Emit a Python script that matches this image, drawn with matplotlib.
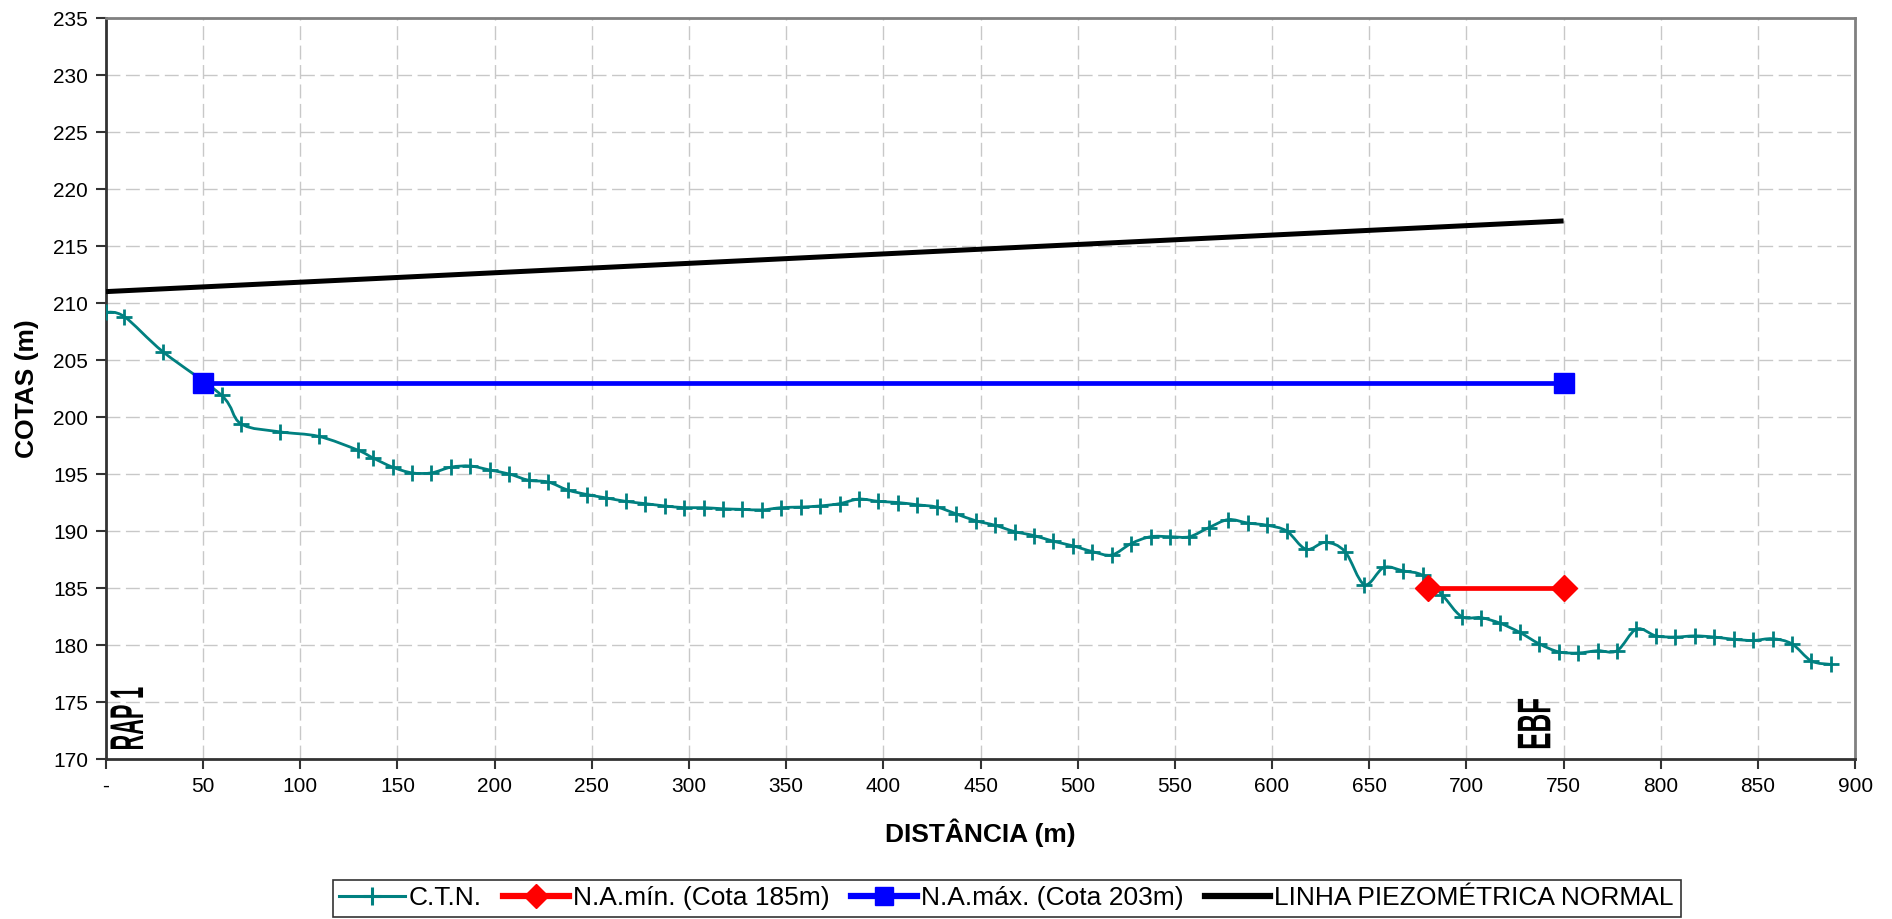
import matplotlib
matplotlib.use("Agg")
import matplotlib.pyplot as plt
from matplotlib.path import Path
from matplotlib.patches import PathPatch
from matplotlib.lines import Line2D
from matplotlib.patheffects import AbstractPathEffect
from matplotlib.transforms import Affine2D

# ---- data -------------------------------------------------------------
ctn_dist = [0, 9.5, 29.5, 59.5, 69.5, 89.5, 109.5, 129.5, 137.5,
            147.5, 157.5, 167.5, 177.5, 187.5, 197.5, 207.5, 217.5, 227.5,
            237.5, 247.5, 257.5, 267.5, 277.5, 287.5, 297.5, 307.5, 317.5,
            327.5, 337.5, 347.5, 357.5, 367.5, 377.5, 387.5, 397.5, 407.5,
            417.5, 427.5, 437.5, 447.5, 457.5, 467.5, 477.5, 487.5, 497.5,
            507.5, 517.5, 527.5, 537.5, 547.5, 557.5, 567.5, 577.5, 587.5,
            597.5, 607.5, 617.5, 627.5, 637.5, 647.5, 657.5, 667.5, 677.5,
            687.5, 697.5, 707.5, 717.5, 727.5, 737.5, 747.5, 757.5, 767.5,
            777.5, 787.5, 797.5, 807.5, 817.5, 827.5, 837.5, 847.5, 857.5,
            867.5, 877.5, 887.5]
ctn_cota = [209.2, 208.8, 205.7, 201.9, 199.4, 198.7, 198.3, 197.1, 196.4,
            195.6, 195.1, 195.1, 195.6, 195.7, 195.35, 195.0, 194.45, 194.3,
            193.6, 193.2, 192.9, 192.6, 192.4, 192.2, 192.05, 192.05, 191.95,
            191.9, 191.85, 192.05, 192.1, 192.2, 192.4, 192.8, 192.6, 192.5,
            192.3, 192.1, 191.5, 190.9, 190.5, 189.95, 189.6, 189.1, 188.7,
            188.2, 187.9, 188.9, 189.5, 189.5, 189.5, 190.3, 191.0, 190.7,
            190.5, 190.0, 188.4, 189.0, 188.2, 185.3, 186.8, 186.5, 186.1,
            184.4, 182.5, 182.4, 181.9, 181.1, 180.1, 179.4, 179.3, 179.5,
            179.5, 181.4, 180.8, 180.7, 180.8, 180.7, 180.5, 180.4, 180.55,
            180.1, 178.6, 178.3]

na_min_dist = [680, 750]
na_min_cota = [185, 185]
na_max_dist = [50, 750]
na_max_cota = [203, 203]
piezo_dist = [0, 750]
piezo_cota = [211.0, 217.2]

x_ticks = [0, 50, 100, 150, 200, 250, 300, 350, 400, 450,
           500, 550, 600, 650, 700, 750, 800, 850, 900]
x_tick_labels = ["-", "50", "100", "150", "200", "250", "300", "350", "400",
                 "450", "500", "550", "600", "650", "700", "750", "800",
                 "850", "900"]
y_ticks = [170, 175, 180, 185, 190, 195, 200, 205, 210, 215, 220, 225,
           230, 235]

series_labels = ["C.T.N.", "N.A.mín. (Cota 185m)", "N.A.máx. (Cota 203m)",
                 "LINHA PIEZOMÉTRICA NORMAL"]
# station names: text, distance, elevation of the text foot, glyph width factor
station_names = [("RAP 1", 12.9, 170.75, 0.46), ("EBF", 737, 170.8, 0.55)]

# ---- style --------------------------------------------------------------
plt.rcParams["font.family"] = ["Liberation Sans", "DejaVu Sans"]
TEAL = "#008080"
RED = "#FF0000"
BLUE = "#0000FF"


class Condensed(AbstractPathEffect):
    """Narrow the glyphs along the baseline (condensed lettering)."""

    def __init__(self, factor):
        super().__init__()
        self._factor = factor

    def draw_path(self, renderer, gc, tpath, affine, rgbFace=None):
        affine = Affine2D().scale(self._factor, 1.0) + affine
        renderer.draw_path(gc, tpath, affine, rgbFace)


def smooth_path(xs, ys):
    """Cardinal (Catmull-Rom) spline through the points as cubic Beziers."""
    verts = [(xs[0], ys[0])]
    codes = [Path.MOVETO]
    n = len(xs)
    for i in range(n - 1):
        x0, y0 = (xs[i - 1], ys[i - 1]) if i > 0 else (xs[i], ys[i])
        x1, y1 = xs[i], ys[i]
        x2, y2 = xs[i + 1], ys[i + 1]
        x3, y3 = (xs[i + 2], ys[i + 2]) if i + 2 < n else (x2, y2)
        c1 = (x1 + (x2 - x0) / 6.0, y1 + (y2 - y0) / 6.0)
        c2 = (x2 - (x3 - x1) / 6.0, y2 - (y3 - y1) / 6.0)
        verts += [c1, c2, (x2, y2)]
        codes += [Path.CURVE4] * 3
    return Path(verts, codes)


fig = plt.figure(figsize=(18.92, 9.19), dpi=100)
ax = fig.add_axes([0.056, 0.1741, 0.9245, 0.8063])

ax.set_xlim(0, 900)
ax.set_ylim(170, 235)

ax.grid(True, color="#c8c8c8", linestyle=(0, (10, 4)), linewidth=1.0)
ax.set_axisbelow(True)

# terrain profile (smoothed) with station markers
ax.add_patch(PathPatch(smooth_path(ctn_dist, ctn_cota), facecolor="none",
                       edgecolor=TEAL, linewidth=2.0, zorder=3))
ax.plot(ctn_dist, ctn_cota, linestyle="none", marker="+", markersize=12,
        markeredgewidth=2.0, color=TEAL, zorder=4)

ax.plot(piezo_dist, piezo_cota, color="black", linewidth=3.6, zorder=3,
        solid_capstyle="butt")
ax.plot(na_max_dist, na_max_cota, color=BLUE, linewidth=3.4, marker="s",
        markersize=14, zorder=5)
ax.plot(na_min_dist, na_min_cota, color=RED, linewidth=3.4, marker="D",
        markersize=13, zorder=5)

for txt, xd, yd, squeeze in station_names:
    ax.text(xd, yd, txt, rotation=90, ha="center", va="bottom",
            fontsize=34, fontweight="bold", zorder=6,
            path_effects=[Condensed(squeeze)])

ax.set_xticks(x_ticks)
ax.set_xticklabels(x_tick_labels)
ax.set_yticks(y_ticks)
ax.tick_params(axis="both", labelsize=15, direction="out", length=7,
               width=1.5, color="#333333", pad=6)

for side in ("left", "bottom"):
    ax.spines[side].set_color("#333333")
    ax.spines[side].set_linewidth(2.0)
for side in ("top", "right"):
    ax.spines[side].set_color("#808080")
    ax.spines[side].set_linewidth(2.0)

ax.set_xlabel("DISTÂNCIA (m)", fontsize=19, fontweight="bold", labelpad=16)
ax.set_ylabel("COTAS (m)", fontsize=19, fontweight="bold", labelpad=10)

handles = [
    Line2D([], [], color=TEAL, linewidth=2.2, marker="+", markersize=13,
           markeredgewidth=2.2),
    Line2D([], [], color=RED, linewidth=4.5, marker="D", markersize=12),
    Line2D([], [], color=BLUE, linewidth=4.5, marker="s", markersize=13),
    Line2D([], [], color="black", linewidth=4.5),
]
leg = fig.legend(handles, series_labels, loc="center",
                 bbox_to_anchor=(0.532, 0.0225), ncol=4, fontsize=19,
                 frameon=True, fancybox=False, shadow=False,
                 handlelength=2.5, handletextpad=0.15, columnspacing=0.8,
                 borderpad=0.25, borderaxespad=0)
leg.get_frame().set_edgecolor("black")
leg.get_frame().set_linewidth(1.2)

fig.savefig("out.png", dpi=100)
